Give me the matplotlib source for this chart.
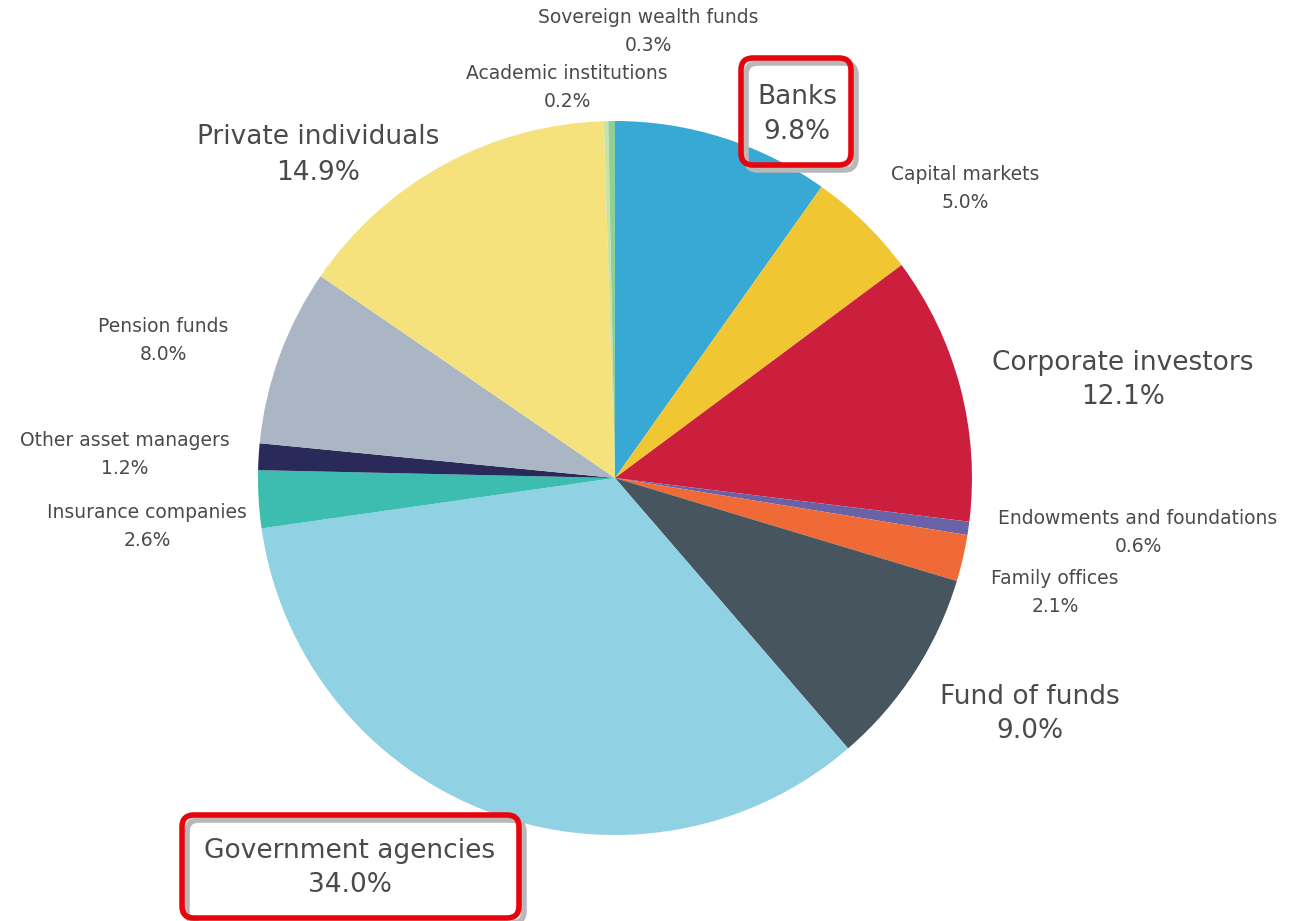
import matplotlib.pyplot as plt
from matplotlib.patches import FancyBboxPatch

# Investor types and their share of commitments, clockwise from 12 o'clock
investors = ['Banks', 'Capital markets', 'Corporate investors',
             'Endowments and foundations', 'Family offices', 'Fund of funds',
             'Government agencies', 'Insurance companies',
             'Other asset managers', 'Pension funds', 'Private individuals',
             'Academic institutions', 'Sovereign wealth funds']
shares = [9.8, 5.0, 12.1, 0.6, 2.1, 9.0, 34.0, 2.6, 1.2, 8.0, 14.9, 0.2, 0.3]
big_labels = ['Banks', 'Corporate investors', 'Fund of funds',
              'Government agencies', 'Private individuals']
boxed = ['Banks', 'Government agencies']

colors = ['#38a8d4', '#f1c633', '#cb1f3d', '#6a62a6', '#ef6a36', '#46555e',
          '#91d1e4', '#3cbdaf', '#29295a', '#aab6c3', '#f6e27c', '#c9e3a6',
          '#8fcf9a']

# label centres in pixel coordinates (from the top-left corner)
label_pos = {
    'Banks': (797, 115),
    'Capital markets': (965, 188),
    'Corporate investors': (1123, 380),
    'Endowments and foundations': (1138, 533),
    'Family offices': (1055, 593),
    'Fund of funds': (1030, 714),
    'Government agencies': (350, 868),
    'Insurance companies': (147, 526),
    'Other asset managers': (125, 455),
    'Pension funds': (163, 340),
    'Private individuals': (318, 155),
    'Academic institutions': (567, 88),
    'Sovereign wealth funds': (648, 32),
}

W, H = 1301, 921
fig = plt.figure(figsize=(W / 100, H / 100), dpi=100)
ax = fig.add_axes([0, 0, 1, 1])

ax.pie(shares, colors=colors, startangle=90, counterclock=False,
       center=(615, H - 478), radius=357, frame=True,
       wedgeprops=dict(linewidth=0))
ax.set_xlim(0, W)
ax.set_ylim(0, H)
ax.set_aspect('equal')
ax.axis('off')

text_color = '#4a4a4a'
for name, share in zip(investors, shares):
    x, y = label_pos[name]
    big = name in big_labels
    ax.text(x, H - y, f'{name}\n{share:.1f}%', ha='center', va='center',
            fontsize=19 if big else 13.5, color=text_color,
            linespacing=1.45 if big else 1.6, family='DejaVu Sans')

# red highlight boxes with a soft drop shadow
boxes = {'Banks': (741, 58, 851, 165), 'Government agencies': (182, 815, 519, 918)}
for name in boxed:
    x0, y0, x1, y1 = boxes[name]
    for off, col, lw, z in [(5, '#b8b8b8', 4, 3), (0, '#e8040c', 4, 4)]:
        ax.add_patch(FancyBboxPatch((x0 + off, H - y1 - off), x1 - x0, y1 - y0,
                                    boxstyle='round,pad=0,rounding_size=12',
                                    fill=False, edgecolor=col, linewidth=lw,
                                    zorder=z))

fig.savefig('out.png', dpi=100, facecolor='white')
